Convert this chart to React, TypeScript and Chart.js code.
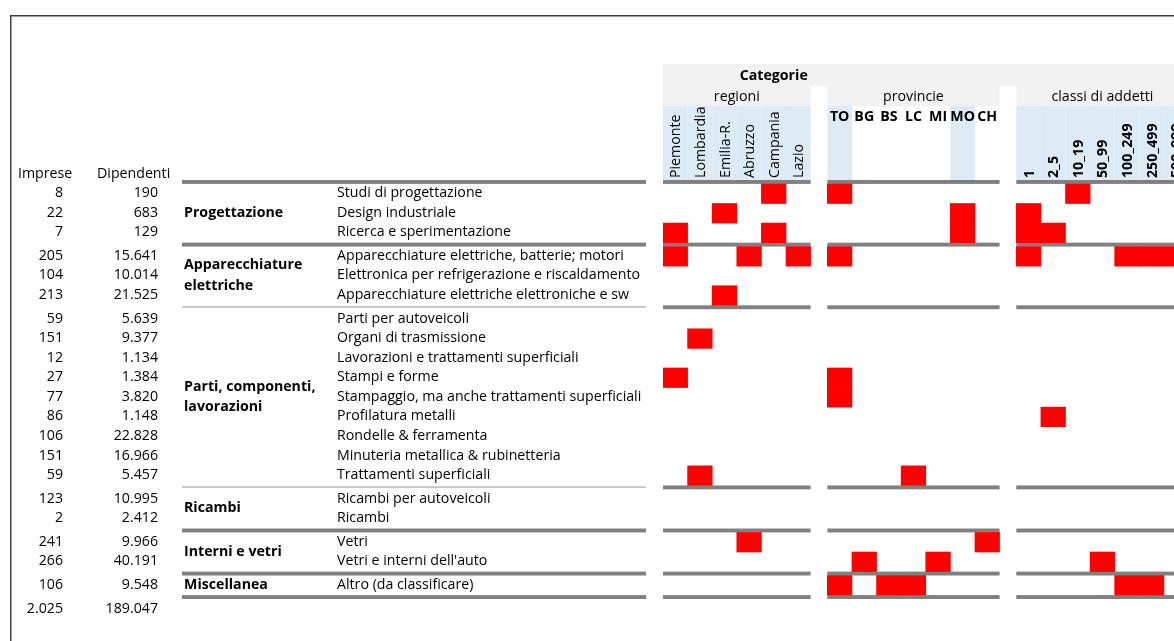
import React, { useEffect, useRef } from 'react';
import { Chart, registerables } from 'chart.js';

Chart.register(...registerables);

// ---------------- DATA ----------------
const groups = ['Progettazione', 'Apparecchiature\nelettriche', 'Parti, componenti,\nlavorazioni', 'Ricambi', 'Interni e vetri', 'Miscellanea'];
const groupSizes = [3, 3, 9, 2, 2, 1];
// separator drawn thin (in the label area) after these groups
const thinSeparatorAfter = [false, true, true, false, false, false];

const subcategories = [
  'Studi di progettazione',
  'Design industriale',
  'Ricerca e sperimentazione',
  'Apparecchiature elettriche, batterie; motori',
  'Elettronica per refrigerazione e riscaldamento',
  'Apparecchiature elettriche elettroniche e sw',
  'Parti per autoveicoli',
  'Organi di trasmissione',
  'Lavorazioni e trattamenti superficiali',
  'Stampi e forme',
  'Stampaggio, ma anche trattamenti superficiali',
  'Profilatura metalli',
  'Rondelle & ferramenta',
  'Minuteria metallica & rubinetteria',
  'Trattamenti superficiali',
  'Ricambi per autoveicoli',
  'Ricambi',
  'Vetri',
  "Vetri e interni dell'auto",
  'Altro (da classificare)',
];

const imprese = ['8', '22', '7', '205', '104', '213', '59', '151', '12', '27', '77', '86', '106', '151', '59', '123', '2', '241', '266', '106'];
const dipendenti = ['190', '683', '129', '15.641', '10.014', '21.525', '5.639', '9.377', '1.134', '1.384', '3.820', '1.148', '22.828', '16.966', '5.457', '10.995', '2.412', '9.966', '40.191', '9.548'];
const totaleImprese = '2.025';
const totaleDipendenti = '189.047';

const regioni = ['Piemonte', 'Lombardia', 'Emilia-R.', 'Abruzzo', 'Campania', 'Lazio'];
const provincie = ['TO', 'BG', 'BS', 'LC', 'MI', 'MO', 'CH'];
const classi = ['1', '2_5', '10_19', '50_99', '100_249', '250_499', '500_999'];
const provincieEvidenziate = ['TO', 'MO'];

const regioniMarks: string[][] = [
  ['Campania'], ['Emilia-R.'], ['Piemonte', 'Campania'],
  ['Piemonte', 'Abruzzo', 'Lazio'], [], ['Emilia-R.'],
  [], ['Lombardia'], [], ['Piemonte'], [], [], [], [], ['Lombardia'],
  [], [],
  ['Abruzzo'], [],
  [],
];
const provincieMarks: string[][] = [
  ['TO'], ['MO'], ['MO'],
  ['TO'], [], [],
  [], [], [], ['TO'], ['TO'], [], [], [], ['LC'],
  [], [],
  ['CH'], ['BG', 'MI'],
  ['TO', 'BS', 'LC'],
];
const classiMarks: string[][] = [
  ['10_19'], ['1'], ['1', '2_5'],
  ['1', '100_249', '250_499', '500_999'], [], [],
  [], [], [], [], [], ['2_5'], [], [], [],
  [], [],
  [], ['50_99'],
  ['100_249', '250_499'],
];

// ---------------- LAYOUT (units of the chart scales) ----------------
const ROW_GAP = 0.2;        // separator thickness, in row units
const SECTION_GAP = 0.68;   // space between column blocks, in column units
const X_VISIBLE = 20.77;    // visible column units
const TITLE_ANCHOR = 4.5;   // x unit where "Categorie" is centred

const FONT = '"Open Sans", Lato, sans-serif';
const FS = 14.2;

const sections = [
  { title: 'regioni', cols: regioni, marks: regioniMarks, rotated: true, bold: false, shaded: regioni },
  { title: 'provincie', cols: provincie, marks: provincieMarks, rotated: false, bold: true, shaded: provincieEvidenziate },
  { title: 'classi di addetti', cols: classi, marks: classiMarks, rotated: true, bold: true, shaded: classi },
];

// derived row geometry
const rowCenters: number[] = [];
const gapRanges: [number, number][] = [];
const groupRanges: [number, number][] = [];
let yCursor = 0;
groupSizes.forEach((n) => {
  gapRanges.push([yCursor, yCursor + ROW_GAP]);
  yCursor += ROW_GAP;
  const start = yCursor;
  for (let k = 0; k < n; k++) {
    rowCenters.push(yCursor + 0.5);
    yCursor += 1;
  }
  groupRanges.push([start, yCursor]);
});
gapRanges.push([yCursor, yCursor + ROW_GAP]);
yCursor += ROW_GAP;
const Y_MAX = yCursor;
const TOTAL_CENTER = Y_MAX + 0.5;

const sectionStarts: number[] = [];
{
  let x = 0;
  sections.forEach((s) => {
    sectionStarts.push(x);
    x += s.cols.length + SECTION_GAP;
  });
}

function buildDatasets() {
  const ds: any[] = [];
  sections.forEach((sec, s) => {
    sec.cols.forEach((col, c) => {
      const x0 = sectionStarts[s] + c;
      const data: any[] = [];
      sec.marks.forEach((row, i) => {
        if (row.includes(col)) data.push({ x: [x0, x0 + 1], y: rowCenters[i] });
      });
      ds.push({
        label: `${sec.title}: ${col}`,
        data,
        backgroundColor: '#FF0000',
        borderWidth: 0,
        grouped: false,
        barPercentage: 1,
        categoryPercentage: 1,
      });
    });
  });
  return ds;
}

const tablePlugin = {
  id: 'tableDecor',
  beforeDatasetsDraw(chart: any) {
    const ctx: CanvasRenderingContext2D = chart.ctx;
    const xs = chart.scales.x;
    const ys = chart.scales.y;
    const W = chart.width;
    const H = chart.height;
    const px = (v: number) => xs.getPixelForValue(v);
    const py = (v: number) => ys.getPixelForValue(v);
    const top = py(0);

    ctx.save();
    // outer frame
    ctx.fillStyle = '#404040';
    ctx.fillRect(10, 15, W, 1.5);
    ctx.fillRect(10, 15, 1.5, H);

    // header backgrounds
    const firstX = px(sectionStarts[0]);
    ctx.fillStyle = '#F2F2F2';
    ctx.fillRect(firstX, top - 116, W - firstX, 22);
    sections.forEach((sec, s) => {
      const a = px(sectionStarts[s]);
      const b = px(sectionStarts[s] + sec.cols.length);
      ctx.fillStyle = '#F2F2F2';
      ctx.fillRect(a, top - 94.5, b - a, 21);
      ctx.fillStyle = '#DDEBF7';
      sec.cols.forEach((col, c) => {
        if (sec.shaded.includes(col)) {
          const ca = px(sectionStarts[s] + c);
          const cb = px(sectionStarts[s] + c + 1);
          ctx.fillRect(ca, top - 74, cb - ca, 74);
        }
      });
    });

    // header texts
    ctx.fillStyle = '#000';
    ctx.textBaseline = 'middle';
    ctx.textAlign = 'center';
    ctx.font = `bold ${FS}px ${FONT}`;
    ctx.fillText('Categorie', px(TITLE_ANCHOR), top - 104);
    sections.forEach((sec, s) => {
      const a = sectionStarts[s];
      ctx.font = `${FS}px ${FONT}`;
      ctx.textAlign = 'center';
      ctx.fillText(sec.title, px(a + sec.cols.length / 2), top - 83);
      ctx.font = `${sec.bold ? 'bold ' : ''}${FS}px ${FONT}`;
      sec.cols.forEach((col, c) => {
        const cx = px(a + c + 0.5);
        if (sec.rotated) {
          ctx.save();
          ctx.translate(cx + 1, top - 2);
          ctx.rotate(-Math.PI / 2);
          ctx.textAlign = 'left';
          ctx.fillText(col, 0, 0);
          ctx.restore();
        } else {
          ctx.textAlign = 'center';
          ctx.fillText(col, cx, top - 63);
        }
      });
    });

    // separator lines in the cell blocks
    ctx.fillStyle = '#808080';
    sections.forEach((sec, s) => {
      const a = px(sectionStarts[s]);
      const b = px(sectionStarts[s] + sec.cols.length);
      gapRanges.forEach(([g0, g1]) => {
        ctx.fillRect(a, py(g0), b - a, py(g1) - py(g0));
      });
    });

    // separator lines in the label area
    const LX0 = 182;
    const LX1 = 646;
    gapRanges.forEach(([g0, g1], k) => {
      const thin = k > 0 && thinSeparatorAfter[k - 1];
      if (thin) {
        ctx.fillStyle = '#A6A6A6';
        ctx.fillRect(LX0, py(g0) + 1, LX1 - LX0, 1.2);
      } else {
        ctx.fillStyle = '#808080';
        ctx.fillRect(LX0, py(g0), LX1 - LX0, py(g1) - py(g0));
      }
    });

    // left table texts
    ctx.fillStyle = '#000';
    ctx.font = `${FS}px ${FONT}`;
    ctx.textBaseline = 'middle';
    ctx.textAlign = 'left';
    ctx.fillText('Imprese', 18, top - 6);
    ctx.fillText('Dipendenti', 97, top - 6);
    rowCenters.forEach((v, i) => {
      const y = py(v) - 0.5;
      ctx.textAlign = 'right';
      ctx.fillText(imprese[i], 63, y);
      ctx.fillText(dipendenti[i], 158, y);
      ctx.textAlign = 'left';
      ctx.fillText(subcategories[i], 337, y);
    });
    ctx.textAlign = 'right';
    ctx.fillText(totaleImprese, 63, py(TOTAL_CENTER));
    ctx.fillText(totaleDipendenti, 158, py(TOTAL_CENTER));

    ctx.font = `bold ${FS}px ${FONT}`;
    ctx.textAlign = 'left';
    groups.forEach((g, k) => {
      const lines = g.split('\n');
      const [s0, s1] = groupRanges[k];
      const cy = py((s0 + s1) / 2) - 0.5;
      lines.forEach((ln, j) => {
        ctx.fillText(ln, 184, cy + (j - (lines.length - 1) / 2) * 20.5);
      });
    });
    ctx.restore();
  },
};

export default function App() {
  const ref = useRef<HTMLCanvasElement | null>(null);
  useEffect(() => {
    if (!ref.current) return;
    const chart = new Chart(ref.current, {
      type: 'bar',
      data: { datasets: buildDatasets() },
      options: {
        animation: false,
        responsive: false,
        devicePixelRatio: 1,
        indexAxis: 'y',
        layout: { padding: { top: 180, bottom: 42, left: 663, right: 0 } },
        plugins: { legend: { display: false }, tooltip: { enabled: false }, title: { display: false } },
        scales: {
          x: { type: 'linear', min: 0, max: X_VISIBLE, display: false, offset: false },
          y: { type: 'linear', min: 0, max: Y_MAX, reverse: true, display: false, offset: false, grid: { offset: false }, ticks: { stepSize: 1 } },
        },
      } as any,
      plugins: [tablePlugin],
    });
    return () => chart.destroy();
  }, []);
  return (
    <div style={{ position: 'absolute', left: 0, top: 0, width: 1174, height: 641, background: '#fff', overflow: 'hidden' }}>
      <canvas ref={ref} width={1174} height={641} style={{ display: 'block' }} />
    </div>
  );
}
